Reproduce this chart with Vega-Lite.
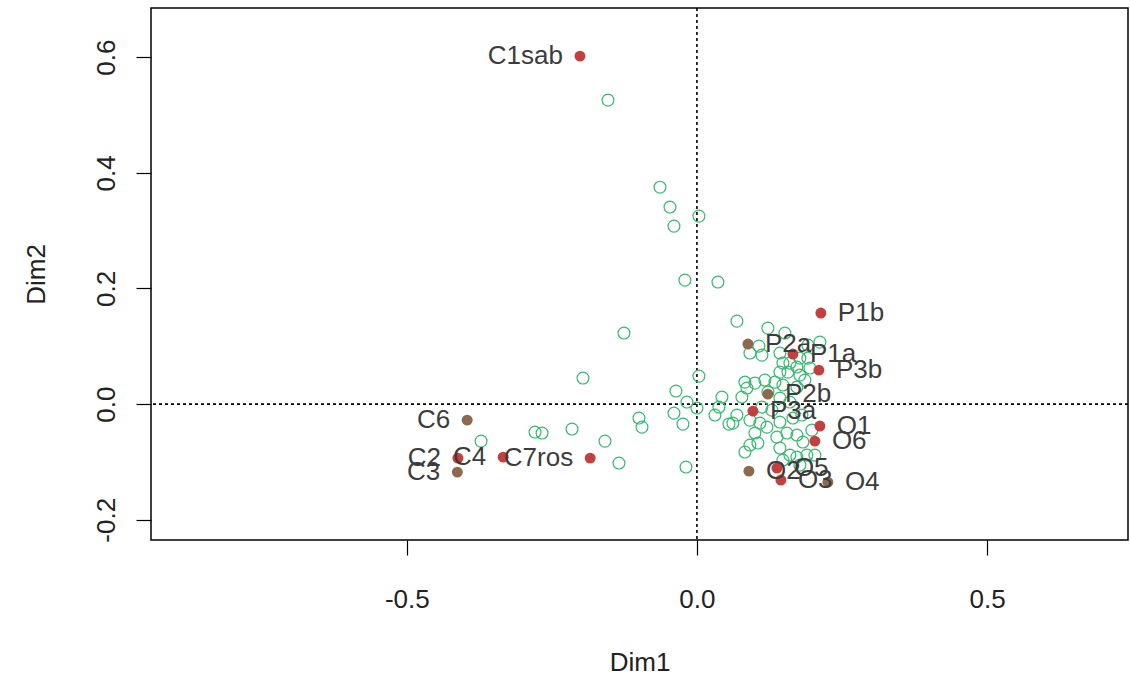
{
  "$schema": "https://vega.github.io/schema/vega-lite/v6.json",
  "width": 977,
  "height": 532,
  "autosize": {"type": "none"},
  "padding": {"left": 151, "top": 8, "right": 2, "bottom": 148},
  "background": "white",
  "config": {
    "view": {"stroke": "black", "strokeWidth": 1.5},
    "font": "Liberation Sans",
    "axis": {
      "domain": false,
      "grid": false,
      "tickColor": "black",
      "tickSize": 15,
      "tickWidth": 1.2,
      "labelFont": "Liberation Sans",
      "labelFontSize": 26,
      "labelColor": "#222222",
      "titleFont": "Liberation Sans",
      "titleFontSize": 26,
      "titleFontWeight": "normal",
      "titleColor": "#222222"
    }
  },
  "datasets": {
    "ind": [
      {"x": -0.1533, "y": 0.5257}, {"x": -0.0637, "y": 0.3752}, {"x": -0.0465, "y": 0.3407},
      {"x": -0.0396, "y": 0.3078}, {"x": 0.0034, "y": 0.3251}, {"x": -0.0207, "y": 0.2144},
      {"x": 0.0362, "y": 0.2110}, {"x": -0.1258, "y": 0.1228}, {"x": 0.0689, "y": 0.1435},
      {"x": -0.1964, "y": 0.0450}, {"x": 0.0034, "y": 0.0484}, {"x": -0.0362, "y": 0.0225},
      {"x": -0.0172, "y": 0.0035}, {"x": 0.0000, "y": -0.0069}, {"x": -0.0396, "y": -0.0156},
      {"x": -0.0241, "y": -0.0346}, {"x": -0.0999, "y": -0.0242}, {"x": -0.0947, "y": -0.0398},
      {"x": -0.1585, "y": -0.0640}, {"x": -0.1344, "y": -0.1020}, {"x": -0.0189, "y": -0.1089},
      {"x": -0.3721, "y": -0.0640}, {"x": -0.2791, "y": -0.0484}, {"x": -0.2670, "y": -0.0501},
      {"x": -0.2153, "y": -0.0432}, {"x": 0.0431, "y": 0.0121}, {"x": 0.0379, "y": -0.0052},
      {"x": 0.0310, "y": -0.0190}, {"x": 0.0551, "y": -0.0346},
      {"x": 0.1223, "y": 0.1314}, {"x": 0.1068, "y": 0.1003}, {"x": 0.0913, "y": 0.0882},
      {"x": 0.1120, "y": 0.0847}, {"x": 0.1430, "y": 0.0882}, {"x": 0.1482, "y": 0.0709},
      {"x": 0.1602, "y": 0.0709}, {"x": 0.1723, "y": 0.0640}, {"x": 0.1568, "y": 0.0553},
      {"x": 0.1430, "y": 0.0553}, {"x": 0.1774, "y": 0.0795}, {"x": 0.1912, "y": 0.0795},
      {"x": 0.1774, "y": 0.0501}, {"x": 0.1344, "y": 0.0380}, {"x": 0.1171, "y": 0.0415},
      {"x": 0.0999, "y": 0.0363}, {"x": 0.0861, "y": 0.0277}, {"x": 0.0775, "y": 0.0121},
      {"x": 0.1482, "y": 0.0329}, {"x": 0.1723, "y": 0.0294}, {"x": 0.1860, "y": 0.0415},
      {"x": 0.1947, "y": 0.0623}, {"x": 0.1430, "y": 0.0104}, {"x": 0.1292, "y": -0.0104},
      {"x": 0.1120, "y": -0.0052}, {"x": 0.0689, "y": -0.0190}, {"x": 0.0620, "y": -0.0329},
      {"x": 0.0913, "y": -0.0277}, {"x": 0.1085, "y": -0.0329}, {"x": 0.1206, "y": -0.0398},
      {"x": 0.1430, "y": -0.0311}, {"x": 0.1654, "y": -0.0242}, {"x": 0.1809, "y": -0.0190},
      {"x": 0.1550, "y": -0.0501}, {"x": 0.1723, "y": -0.0536}, {"x": 0.1826, "y": -0.0657},
      {"x": 0.1378, "y": -0.0571}, {"x": 0.0999, "y": -0.0501}, {"x": 0.0913, "y": -0.0709},
      {"x": 0.1051, "y": -0.0674}, {"x": 0.1430, "y": -0.0761}, {"x": 0.1602, "y": -0.0882},
      {"x": 0.1723, "y": -0.0916}, {"x": 0.1895, "y": -0.0882}, {"x": 0.2033, "y": -0.0882},
      {"x": 0.1482, "y": -0.0968}, {"x": 0.1774, "y": -0.1055}, {"x": 0.1912, "y": 0.1020},
      {"x": 0.2119, "y": 0.1072}, {"x": 0.1516, "y": 0.1228}, {"x": 0.1981, "y": -0.0450},
      {"x": 0.1223, "y": 0.0208}, {"x": 0.1602, "y": 0.0035}, {"x": 0.0827, "y": 0.0380},
      {"x": 0.0827, "y": -0.0830}
    ],
    "cat": [
      {"label": "C1sab", "x": -0.2016, "y": 0.6018, "grp": "a"},
      {"label": "C6", "x": -0.3960, "y": -0.0277, "grp": "b"},
      {"label": "C2", "x": -0.4120, "y": -0.0934, "grp": "a"},
      {"label": "C3", "x": -0.4130, "y": -0.1176, "grp": "b"},
      {"label": "C4", "x": -0.3340, "y": -0.0917, "grp": "a"},
      {"label": "C7ros", "x": -0.1840, "y": -0.0934, "grp": "a"},
      {"label": "P1b", "x": 0.2136, "y": 0.1574, "grp": "a"},
      {"label": "P2a", "x": 0.0879, "y": 0.1038, "grp": "b"},
      {"label": "P1a", "x": 0.1654, "y": 0.0865, "grp": "a"},
      {"label": "P3b", "x": 0.2102, "y": 0.0588, "grp": "a"},
      {"label": "P2b", "x": 0.1223, "y": 0.0173, "grp": "b"},
      {"label": "P3a", "x": 0.0965, "y": -0.0121, "grp": "a"},
      {"label": "O1", "x": 0.2119, "y": -0.0380, "grp": "a"},
      {"label": "O6", "x": 0.2033, "y": -0.0640, "grp": "a"},
      {"label": "O2", "x": 0.0896, "y": -0.1159, "grp": "b"},
      {"label": "O5", "x": 0.1378, "y": -0.1107, "grp": "a"},
      {"label": "O3", "x": 0.1447, "y": -0.1314, "grp": "a"},
      {"label": "O4", "x": 0.2257, "y": -0.1349, "grp": "b"}
    ]
  },
  "layer": [
    {
      "data": {"values": [{}]},
      "mark": {"type": "rule", "color": "black", "strokeWidth": 1.6, "strokeDash": [3, 3]},
      "encoding": {"x": {"datum": 0, "type": "quantitative"}}
    },
    {
      "data": {"values": [{}]},
      "mark": {"type": "rule", "color": "black", "strokeWidth": 1.6, "strokeDash": [3, 3]},
      "encoding": {"y": {"datum": 0, "type": "quantitative"}}
    },
    {
      "data": {"name": "ind"},
      "mark": {"type": "point", "shape": "circle", "filled": false, "size": 140, "strokeWidth": 1.2, "color": "#38b872", "opacity": 1},
      "encoding": {
        "x": {
          "field": "x", "type": "quantitative",
          "scale": {"domain": [-0.941, 0.743], "nice": false, "zero": false},
          "axis": {
            "values": [-0.5, 0, 0.5],
            "labelExpr": "replace(format(datum.value, '.1f'), '\u2212', '-')",
            "labelPadding": 31,
            "title": "Dim1",
            "titlePadding": 37
          }
        },
        "y": {
          "field": "y", "type": "quantitative",
          "scale": {"domain": [-0.235, 0.685], "nice": false, "zero": false},
          "axis": {
            "values": [-0.2, 0, 0.2, 0.4, 0.6],
            "labelExpr": "replace(format(datum.value, '.1f'), '\u2212', '-')",
            "labelAngle": -90,
            "labelAlign": "center",
            "labelBaseline": "bottom",
            "labelPadding": 17,
            "title": "Dim2",
            "titlePadding": 44
          }
        }
      }
    },
    {
      "data": {"name": "cat"},
      "mark": {"type": "point", "shape": "circle", "filled": true, "size": 120, "opacity": 1},
      "encoding": {
        "x": {"field": "x", "type": "quantitative"},
        "y": {"field": "y", "type": "quantitative"},
        "color": {
          "field": "grp", "type": "nominal",
          "scale": {"domain": ["a", "b"], "range": ["#c4403f", "#8d6a4d"]},
          "legend": null
        }
      }
    },
    {
      "data": {"name": "cat"},
      "transform": [{"filter": "indexof(datum.label, 'C') == 0"}],
      "mark": {"type": "text", "align": "right", "baseline": "middle", "dx": -17, "fontSize": 26, "color": "#3c3c3c", "font": "Liberation Sans"},
      "encoding": {
        "x": {"field": "x", "type": "quantitative"},
        "y": {"field": "y", "type": "quantitative"},
        "text": {"field": "label"}
      }
    },
    {
      "data": {"name": "cat"},
      "transform": [{"filter": "indexof(datum.label, 'C') != 0"}],
      "mark": {"type": "text", "align": "left", "baseline": "middle", "dx": 17, "fontSize": 26, "color": "#3c3c3c", "font": "Liberation Sans"},
      "encoding": {
        "x": {"field": "x", "type": "quantitative"},
        "y": {"field": "y", "type": "quantitative"},
        "text": {"field": "label"}
      }
    }
  ]
}
